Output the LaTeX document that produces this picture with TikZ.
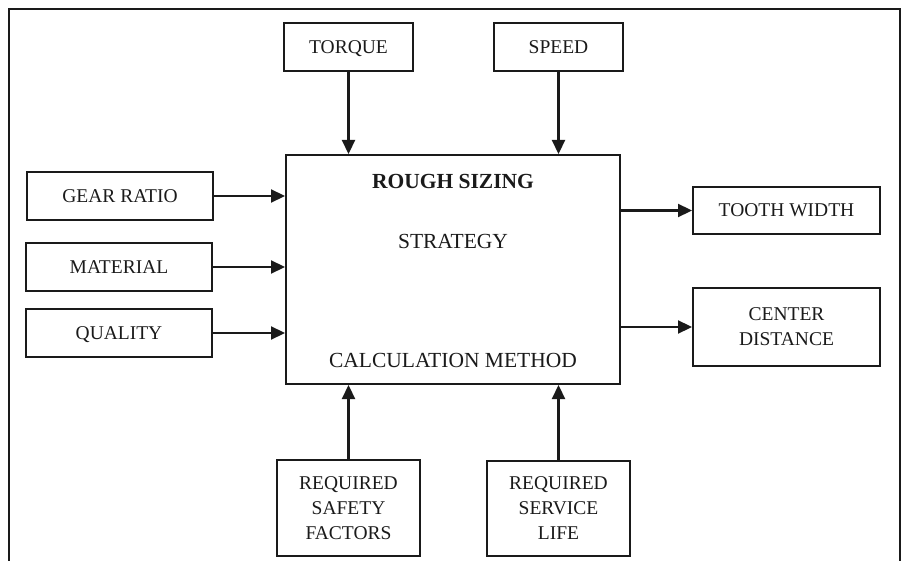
\documentclass[tikz,border=0pt]{standalone}
\usepackage{fontspec}
\setmainfont{Liberation Serif}
\usetikzlibrary{arrows.meta}
\definecolor{ink}{HTML}{1A1A1A}
\tikzset{
  blk/.style={draw=ink, line width=2pt, inner sep=0pt, align=center,
    font=\fontsize{19.5}{25}\selectfont, text=ink, text height=12.9pt, text depth=0pt},
  two/.style={text height=37.9pt},
  three/.style={text height=62.9pt},
  maintxt/.style={font=\fontsize{21.5}{26}\selectfont, text=ink, anchor=base, inner sep=0pt},
  arr/.style={draw=ink, line width=2.2pt, -{Triangle[length=14pt,width=13pt]}},
}
\begin{document}
\begin{tikzpicture}[x=1pt,y=-1pt]
\useasboundingbox (0,0) rectangle (904,561);
% outer frame (open at the bottom)
\draw[ink, line width=2pt] (9,561) -- (9,9) -- (900,9) -- (900,561);
% main block
\node[blk, minimum width=334pt, minimum height=229pt] (main) at (453,269.5) {};
\node[maintxt, font=\fontsize{21.5}{26}\selectfont\bfseries] (t1) at (453,189) {ROUGH SIZING};
\node[maintxt] (t2) at (453,248) {STRATEGY};
\node[maintxt] (t3) at (453,367) {CALCULATION METHOD};
% inputs top
\node[blk, minimum width=129pt, minimum height=48pt] (torque) at (348.5,47) {TORQUE};
\node[blk, minimum width=129pt, minimum height=48pt] (speed) at (558.5,47) {SPEED};
% inputs left
\node[blk, minimum width=186pt, minimum height=48pt] (gear) at (120,196) {GEAR RATIO};
\node[blk, minimum width=186pt, minimum height=48pt] (mat) at (119,267) {MATERIAL};
\node[blk, minimum width=186pt, minimum height=48pt] (qual) at (119,333) {QUALITY};
% outputs right
\node[blk, minimum width=187pt, minimum height=47pt] (tooth) at (786.5,210.5) {TOOTH WIDTH};
\node[blk, two, minimum width=187pt, minimum height=78pt] (cdist) at (786.5,327) {CENTER\\DISTANCE};
% inputs bottom
\node[blk, three, minimum width=143pt, minimum height=96pt] (safety) at (348.5,508) {REQUIRED\\SAFETY\\FACTORS};
\node[blk, three, minimum width=143pt, minimum height=95pt] (life) at (558.5,508.5) {REQUIRED\\SERVICE\\LIFE};
% connectors
\draw[arr] (torque.south) -- (torque.south |- main.north);
\draw[arr] (speed.south) -- (speed.south |- main.north);
\draw[arr] (gear.east) -- (gear.east -| main.west);
\draw[arr] (mat.east) -- (mat.east -| main.west);
\draw[arr] (qual.east) -- (qual.east -| main.west);
\draw[arr] (tooth.west -| main.east) -- (tooth.west);
\draw[arr] (cdist.west -| main.east) -- (cdist.west);
\draw[arr] (safety.north) -- (safety.north |- main.south);
\draw[arr] (life.north) -- (life.north |- main.south);
\end{tikzpicture}
\end{document}
